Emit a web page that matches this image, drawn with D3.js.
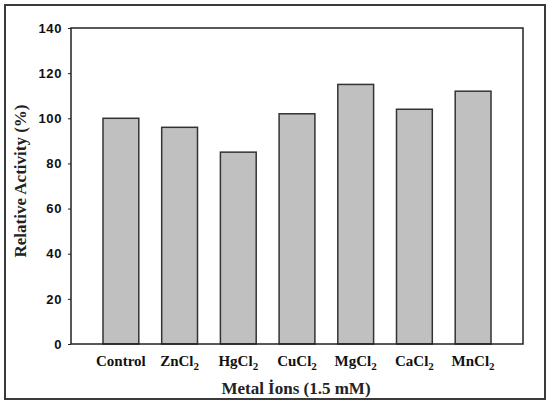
<!DOCTYPE html>
<html>
<head>
<meta charset="utf-8">
<script src="https://cdn.jsdelivr.net/npm/d3@7"></script>
<style>
  body { margin: 0; background: #fff; }
</style>
</head>
<body>
<div id="my_dataviz"></div>
<script>
// ---- data
var categories = ["Control", "ZnCl", "HgCl", "CuCl", "MgCl", "CaCl", "MnCl"];
var subscripts = ["", "2", "2", "2", "2", "2", "2"];
var activity = [100, 96, 85, 102, 115, 104, 112];
var yTicks = [0, 20, 40, 60, 80, 100, 120, 140];

var W = 550, H = 405;
var margin = {top: 28, right: 27, bottom: 61, left: 71};
var width = W - margin.left - margin.right;
var height = H - margin.top - margin.bottom;

var svg = d3.select("#my_dataviz")
    .append("svg")
      .attr("width", W)
      .attr("height", H);

// outer frame
svg.append("rect")
    .attr("x", 5).attr("y", 5)
    .attr("width", 540).attr("height", 394)
    .attr("fill", "none")
    .attr("stroke", "#3a3a3a")
    .attr("stroke-width", 2);

var g = svg.append("g")
    .attr("transform", "translate(" + margin.left + "," + margin.top + ")");

var xScale = d3.scaleBand()
    .domain(categories)
    .range([0, width])
    .paddingInner(0.39)
    .paddingOuter(0.545);

var yScale = d3.scaleLinear()
    .domain([0, 140])
    .range([height, 0]);

// bars
g.selectAll(".bar")
    .data(categories)
    .enter().append("rect")
      .attr("class", "bar")
      .attr("x", d => xScale(d))
      .attr("y", (d, i) => yScale(activity[i]))
      .attr("width", xScale.bandwidth())
      .attr("height", (d, i) => height - yScale(activity[i]))
      .attr("fill", "#c0c0c0")
      .attr("stroke", "#333")
      .attr("stroke-width", 1.5);

// y axis
var yAxis = g.append("g")
    .call(d3.axisLeft(yScale).tickValues(yTicks).tickSize(3).tickPadding(6));
yAxis.select(".domain").remove();
yAxis.selectAll("line").attr("stroke", "#222");
yAxis.selectAll("text")
    .attr("font-family", "Liberation Sans, Arial, sans-serif")
    .attr("font-weight", "bold")
    .attr("font-size", 13)
    .attr("letter-spacing", 0.6)
    .attr("fill", "#111");

// plot box
g.append("rect")
    .attr("width", width)
    .attr("height", height)
    .attr("fill", "none")
    .attr("stroke", "#222")
    .attr("stroke-width", 1.5);

// x tick labels with subscript
var xl = g.selectAll(".xlab")
    .data(categories)
    .enter().append("text")
      .attr("class", "xlab")
      .attr("x", d => xScale(d) + xScale.bandwidth() / 2)
      .attr("y", height + 22)
      .attr("text-anchor", "middle")
      .attr("font-family", "Liberation Serif, Times New Roman, serif")
      .attr("font-weight", "bold")
      .attr("font-size", 15)
      .attr("fill", "#111");
xl.append("tspan").text(d => d);
xl.append("tspan")
    .attr("dy", 4)
    .attr("font-size", 11)
    .text((d, i) => subscripts[i]);

// axis titles
svg.append("text")
    .attr("x", margin.left + width / 2 - 1)
    .attr("y", 394)
    .attr("text-anchor", "middle")
    .attr("font-family", "Liberation Serif, Times New Roman, serif")
    .attr("font-weight", "bold")
    .attr("font-size", 17)
    .attr("fill", "#222")
    .text("Metal İons (1.5 mM)");

svg.append("text")
    .attr("transform", "translate(26," + 181 + ") rotate(-90)")
    .attr("text-anchor", "middle")
    .attr("font-family", "Liberation Serif, Times New Roman, serif")
    .attr("font-weight", "bold")
    .attr("font-size", 17)
    .attr("fill", "#222")
    .text("Relative Activity (%)");
</script>
</body>
</html>
